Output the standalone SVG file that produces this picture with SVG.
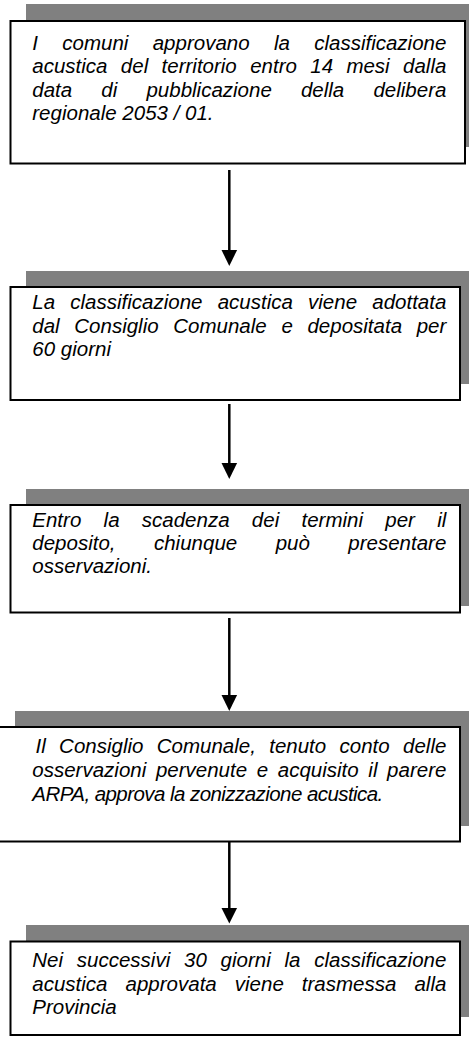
<svg xmlns="http://www.w3.org/2000/svg" width="469" height="1057" viewBox="0 0 469 1057">
<style>
.sh{fill:#808080;stroke:none}
.bx{fill:#ffffff;stroke:#000000;stroke-width:2}
.t{font-family:"Liberation Sans",Arial,sans-serif;font-style:italic;font-size:20.5px;fill:#000000}
.ln{stroke:#000000;stroke-width:2.5;fill:none}
.ah{fill:#000000;stroke:none}
</style>
<rect width="469" height="1057" fill="#ffffff"/>
<g id="node1">
<rect class="sh" x="26" y="4" width="460" height="143"/>
<rect class="bx" x="10.5" y="21" width="454.5" height="142.5"/>
<text class="t" x="32.3" y="50" word-spacing="18.62">I comuni approvano la classificazione</text>
<text class="t" x="32.3" y="73.3" word-spacing="7.67">acustica del territorio entro 14 mesi dalla</text>
<text class="t" x="32.3" y="96.7" word-spacing="23.45">data di pubblicazione della delibera</text>
<text class="t" x="32.3" y="120">regionale 2053 / 01.</text>
</g>
<g id="node2">
<rect class="sh" x="26" y="271" width="460" height="113"/>
<rect class="bx" x="10.5" y="287" width="449.5" height="113"/>
<text class="t" x="32.3" y="309.3" word-spacing="9.5">La classificazione acustica viene adottata</text>
<text class="t" x="32.3" y="332.7" word-spacing="8.96">dal Consiglio Comunale e depositata per</text>
<text class="t" x="32.3" y="356">60 giorni</text>
</g>
<g id="node3">
<rect class="sh" x="26" y="489" width="460" height="117"/>
<rect class="bx" x="10.5" y="505" width="449.5" height="107.5"/>
<text class="t" x="32.3" y="526.7" word-spacing="16.59">Entro la scadenza dei termini per il</text>
<text class="t" x="32.3" y="550" word-spacing="32.78">deposito, chiunque può presentare</text>
<text class="t" x="32.3" y="573">osservazioni.</text>
</g>
<g id="node4">
<rect class="sh" x="15" y="711" width="470" height="115"/>
<rect class="bx" x="-3" y="727" width="463" height="114.5"/>
<text class="t" x="35.5" y="753.3" word-spacing="7.64">Il Consiglio Comunale, tenuto conto delle</text>
<text class="t" x="32.3" y="776.7" word-spacing="3.96">osservazioni pervenute e acquisito il parere</text>
<text class="t" x="32.3" y="800.5" textLength="351" lengthAdjust="spacing">ARPA, approva la zonizzazione acustica.</text>
</g>
<g id="node5">
<rect class="sh" x="26" y="925" width="460" height="92"/>
<rect class="bx" x="10.5" y="941.5" width="449.5" height="93.5"/>
<text class="t" x="32.3" y="967.3" word-spacing="8.07">Nei successivi 30 giorni la classificazione</text>
<text class="t" x="32.3" y="991" word-spacing="12.35">acustica approvata viene trasmessa alla</text>
<text class="t" x="32.3" y="1014">Provincia</text>
</g>
<g id="connectors">
<line class="ln" x1="229.3" y1="170" x2="229.3" y2="252"/>
<polygon class="ah" points="221.5,250 237.1,250 229.3,266"/>
<line class="ln" x1="229.3" y1="404" x2="229.3" y2="465"/>
<polygon class="ah" points="221.5,463 237.1,463 229.3,479"/>
<line class="ln" x1="229.3" y1="618" x2="229.3" y2="697"/>
<polygon class="ah" points="221.5,695 237.1,695 229.3,711"/>
<line class="ln" x1="229.3" y1="842" x2="229.3" y2="910"/>
<polygon class="ah" points="221.5,908 237.1,908 229.3,923.5"/>
</g>
</svg>
